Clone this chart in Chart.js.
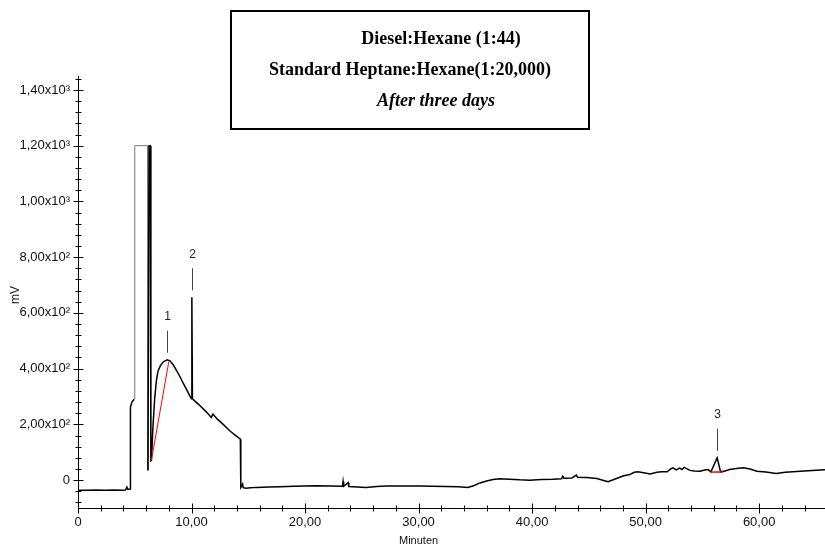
<!DOCTYPE html>
<html>
<head>
<meta charset="utf-8">
<script src="https://cdn.jsdelivr.net/npm/chart.js@4.4.1/dist/chart.umd.min.js"></script>
<style>
  html, body { margin: 0; padding: 0; background: #ffffff; }
  #wrap { width: 825px; height: 551px; position: relative; }
</style>
</head>
<body>
<div id="wrap"><canvas id="c" width="825" height="551"></canvas></div>
<script>
// ---------- DATA ----------
const titleLines = ['Diesel:Hexane (1:44)', 'Standard Heptane:Hexane(1:20,000)', 'After three days'];
const xAxisTitle = 'Minuten';
const yAxisTitle = 'mV';

// chromatogram trace: retention time (min) and detector signal (mV)
const times = [
  0.00, 0.8, 1.6, 2.4, 3.2, 4.0, 4.2, 4.3, 4.4, 4.6,
  4.62, 4.75, 4.95, 5.0, 6.12, 6.16, 6.26, 6.36, 6.42, 6.47,
  6.6, 6.75, 6.9, 7.05, 7.25, 7.5, 7.85, 8.1, 8.4, 8.7,
  9.0, 9.3, 9.6, 9.98, 10.03, 10.08, 10.42, 10.8, 11.3, 11.74,
  11.89, 12.3, 12.77, 13.36, 13.9, 14.3, 14.34, 14.5, 14.55, 14.8,
  15.2, 15.7, 16.8, 17.8, 19.0, 20.0, 21.0, 22.2, 23.3, 23.35,
  23.4, 23.8, 23.85, 25.4, 26.3, 27.2, 28.5, 30.0, 31.2, 32.4,
  33.5, 34.35, 34.9, 35.4, 36.0, 36.55, 37.15, 38.0, 38.9, 39.8,
  40.8, 41.8, 42.6, 42.7, 42.8, 43.5, 43.9, 44.0, 44.8, 45.7,
  46.3, 46.7, 47.2, 48.0, 48.6, 49.0, 49.3, 49.7, 50.4, 51.0,
  51.4, 51.9, 52.2, 52.4, 52.7, 53.0, 53.2, 53.4, 53.9, 54.3,
  54.8, 55.2, 55.5, 55.75, 56.3, 56.6, 57.0, 57.4, 58.0, 58.6,
  59.2, 59.8, 60.6, 61.5, 62.3, 63.3, 64.3, 65.8
];
const signal = [
  -36, -36, -35, -36, -35, -36, -35, -25, -33, -32,
  262, 280, 290, 1200, 1200, 35, 1200, 1200, 70, 72,
  190, 290, 355, 392, 410, 424, 432, 428, 413, 392,
  370, 345, 322, 292, 656, 292, 279, 265, 245, 225,
  237, 218, 201, 177, 160, 147, -26, -14, -27, -29,
  -27, -26, -25, -24, -22, -21, -20, -21, -22, -5,
  -22, -9, -23, -26, -23, -21, -21, -21, -22, -23,
  -24, -26, -19, -10, -3, 2, 5, 3, 1, 0,
  2, 3, 5, 14, 7, 8, 18, 10, 9, 6,
  -1, -6, 2, 15, 20, 28, 30, 27, 22, 28,
  30, 30, 40, 44, 37, 43, 38, 46, 35, 33,
  32, 36, 38, 30, 80, 30, 33, 38, 42, 44,
  40, 32, 29, 24, 28, 31, 34, 37
];

// integration baselines (red)
const base1Times = [6.47, 8.0];
const base1Values = [72, 425];
const base2Times = [9.98, 10.1];
const base2Values = [292, 288];
const base3Times = [55.7, 56.8];
const base3Values = [29, 29];

// identified peaks
const peakLabels = ['1', '2', '3'];
const peakTimes = [7.85, 10.05, 56.3];
const peakHeights = [432, 656, 80];

// axis ticks
const xMajorTicks = [0, 10, 20, 30, 40, 50, 60];
const xTickLabels = ['0', '10,00', '20,00', '30,00', '40,00', '50,00', '60,00'];
const xMinorStep = 2;
const yMajorTicks = [0, 200, 400, 600, 800, 1000, 1200, 1400];
const yTickLabels = ['0', '2,00x10\u00B2', '4,00x10\u00B2', '6,00x10\u00B2', '8,00x10\u00B2',
                     '1,00x10\u00B3', '1,20x10\u00B3', '1,40x10\u00B3'];
const yMinorStep = 40;

// ---------- CHART ----------
const xMin = 0, xMax = 65.8, yMin = -100, yMax = 1450;
const pts = (t, v) => t.map((x, i) => ({ x: x, y: v[i] }));
const FONT = "'Liberation Sans', Arial, sans-serif";

function buildTicks(min, max, step) {
  const out = [];
  const start = Math.ceil(min / step) * step;
  for (let v = start; v <= max + 1e-9; v += step) out.push(Math.round(v * 1000) / 1000);
  return out;
}

const axisPlugin = {
  id: 'axisPlugin',
  afterDraw(chart) {
    const ctx = chart.ctx;
    const xs = chart.scales.x, ys = chart.scales.y;
    const area = chart.chartArea;
    ctx.save();
    ctx.strokeStyle = '#000';
    ctx.lineWidth = 1;
    // axis lines
    const ax = Math.round(area.left) + 0.5;
    const ay = Math.round(area.bottom) + 0.5;
    ctx.beginPath();
    ctx.moveTo(ax, area.top); ctx.lineTo(ax, ay);
    ctx.moveTo(ax, ay); ctx.lineTo(area.right, ay);
    ctx.stroke();
    // ticks crossing the axes
    buildTicks(xMin, xMax, xMinorStep).forEach(v => {
      const px = Math.round(xs.getPixelForValue(v)) + 0.5;
      const len = xMajorTicks.includes(v) ? 5 : 3;
      ctx.beginPath(); ctx.moveTo(px, ay - len); ctx.lineTo(px, ay + len); ctx.stroke();
    });
    buildTicks(yMin, yMax, yMinorStep).forEach(v => {
      const py = Math.round(ys.getPixelForValue(v)) + 0.5;
      const len = yMajorTicks.includes(v) ? 5 : 3;
      ctx.beginPath(); ctx.moveTo(ax - len, py); ctx.lineTo(ax + len, py); ctx.stroke();
    });
    // axis titles
    ctx.fillStyle = '#111';
    ctx.font = '11px ' + FONT;
    ctx.textAlign = 'center';
    ctx.textBaseline = 'middle';
    ctx.fillText(xAxisTitle, xs.getPixelForValue(30), 541);
    ctx.save();
    ctx.translate(16, 295);
    ctx.rotate(-Math.PI / 2);
    ctx.font = '12px ' + FONT;
    ctx.fillText(yAxisTitle, 0, 0);
    ctx.restore();

    // peak labels
    ctx.strokeStyle = '#444';
    ctx.fillStyle = '#222';
    ctx.font = '12px ' + FONT;
    peakLabels.forEach((lab, i) => {
      const px = Math.round(xs.getPixelForValue(peakTimes[i])) + 0.5;
      const py = ys.getPixelForValue(peakHeights[i]);
      ctx.beginPath(); ctx.moveTo(px, py - 7); ctx.lineTo(px, py - 29); ctx.stroke();
      ctx.fillText(lab, px, py - 43);
    });

    // title box
    ctx.fillStyle = '#fff';
    ctx.fillRect(230, 10, 359, 119);
    ctx.strokeStyle = '#000';
    ctx.lineWidth = 2;
    ctx.strokeRect(231, 11, 358, 118);
    ctx.fillStyle = '#000';
    ctx.font = "bold 18px 'Liberation Serif', 'Times New Roman', serif";
    ctx.fillText(titleLines[0], 441, 39);
    ctx.fillText(titleLines[1], 410, 70);
    ctx.font = "italic bold 18px 'Liberation Serif', 'Times New Roman', serif";
    ctx.fillText(titleLines[2], 436, 101);
    ctx.restore();
  }
};

new Chart(document.getElementById('c'), {
  type: 'scatter',
  data: {
    datasets: [
      {
        data: pts(times, signal),
        showLine: true,
        borderColor: '#000',
        borderWidth: 1.5,
        pointRadius: 0,
        tension: 0,
        segment: {
          borderColor: c => (c.p1.parsed.x >= 5.0 && c.p1.parsed.x <= 6.16) ? '#777' : '#000',
          borderWidth: c => (c.p1.parsed.x >= 5.0 && c.p1.parsed.x <= 6.16) ? 1 : 1.5
        },
        order: 2
      },
      { data: pts(base1Times, base1Values), showLine: true, borderColor: '#ff0000', borderWidth: 1, pointRadius: 0, order: 1 },
      { data: pts(base2Times, base2Values), showLine: true, borderColor: '#ff0000', borderWidth: 1, pointRadius: 0, order: 1 },
      { data: pts(base3Times, base3Values), showLine: true, borderColor: '#ff0000', borderWidth: 1.5, pointRadius: 0, order: 1 }
    ]
  },
  options: {
    responsive: false,
    animation: false,
    devicePixelRatio: 1,
    layout: { padding: { top: 76, left: 0, right: 0, bottom: 0 } },
    plugins: { legend: { display: false }, tooltip: { enabled: false }, title: { display: false } },
    scales: {
      x: {
        type: 'linear', min: xMin, max: xMax,
        afterFit: s => { s.height = 43; },
        afterBuildTicks: s => { s.ticks = xMajorTicks.map(v => ({ value: v })); },
        grid: { display: false, drawTicks: false },
        border: { display: false },
        ticks: {
          autoSkip: false, maxRotation: 0, padding: 7, color: '#111',
          font: { family: FONT, size: 13 },
          callback: v => { const i = xMajorTicks.indexOf(v); return i >= 0 ? xTickLabels[i] : ''; }
        }
      },
      y: {
        type: 'linear', min: yMin, max: yMax,
        afterFit: s => { s.width = 78; },
        afterBuildTicks: s => { s.ticks = yMajorTicks.map(v => ({ value: v })); },
        grid: { display: false, drawTicks: false },
        border: { display: false },
        ticks: {
          autoSkip: false, padding: 8, color: '#111',
          font: { family: FONT, size: 13 },
          callback: v => { const i = yMajorTicks.indexOf(v); return i >= 0 ? yTickLabels[i] : ''; }
        }
      }
    }
  },
  plugins: [axisPlugin]
});
</script>
</body>
</html>
